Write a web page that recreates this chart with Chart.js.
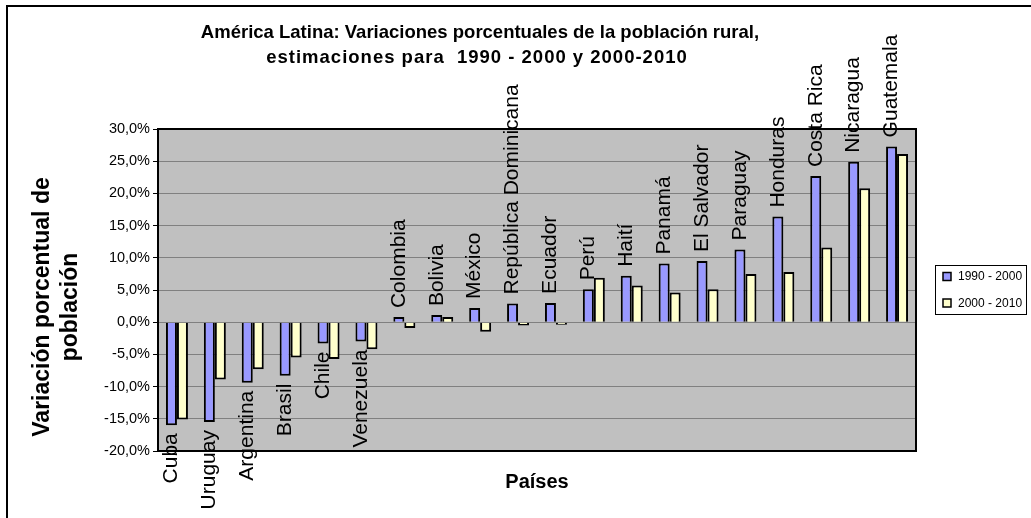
<!DOCTYPE html>
<html><head><meta charset="utf-8">
<script src="https://cdn.jsdelivr.net/npm/chart.js@4.4.0/dist/chart.umd.min.js"></script>
<style>html,body{margin:0;padding:0;background:#fff;}#wrap{width:1031px;height:518px;}</style>
</head><body><div id="wrap"><canvas id="c" width="1031" height="518"></canvas></div>
<script>
const categories = ['Cuba','Uruguay','Argentina','Brasil','Chile','Venezuela','Colombia','Bolivia','México','República Dominicana','Ecuador','Perú','Haití','Panamá','El Salvador','Paraguay','Honduras','Costa Rica','Nicaragua','Guatemala'];
const series1990 = [-16.0,-15.5,-9.4,-8.3,-3.3,-3.0,0.8,1.1,2.2,2.9,3.0,5.1,7.2,9.1,9.5,11.3,16.4,22.7,24.9,27.3];
const series2000 = [-15.1,-8.9,-7.3,-5.5,-5.7,-4.2,-0.9,0.8,-1.5,-0.5,-0.4,6.9,5.7,4.6,5.1,7.5,7.8,11.6,20.8,26.1];
const seriesLabels = ['1990 - 2000','2000 - 2010'];
const seriesColors = ['#9999FF','#FFFFCC'];
const titleLines = ['América Latina: Variaciones porcentuales de la población rural,','estimaciones para  1990 - 2000 y 2000-2010'];
const yTitleLines = ['Variación porcentual de','población'];
const xTitle = 'Países';
const yMin = -20, yMax = 30, yStep = 5;

const FAM = '"Liberation Sans", Arial, sans-serif';

const decor = {
  id: 'decor',
  beforeDraw(chart) {
    const ctx = chart.ctx, a = chart.chartArea;
    ctx.save();
    ctx.fillStyle = '#fff';
    ctx.fillRect(0, 0, chart.width, chart.height);
    ctx.strokeStyle = '#000';
    ctx.lineWidth = 2;
    ctx.beginPath();
    ctx.moveTo(7, chart.height + 2);
    ctx.lineTo(7, 6);
    ctx.lineTo(chart.width + 2, 6);
    ctx.stroke();
    ctx.fillStyle = '#C0C0C0';
    ctx.fillRect(a.left, a.top, a.right - a.left, a.bottom - a.top);
    ctx.restore();
  },
  afterDatasetsDraw(chart) {
    const ctx = chart.ctx, a = chart.chartArea;
    ctx.save();
    ctx.strokeStyle = '#000';
    ctx.lineWidth = 2;
    ctx.strokeRect(a.left, a.top, a.right - a.left, a.bottom - a.top);

    const meta = chart.getDatasetMeta(0);
    ctx.fillStyle = '#000';
    ctx.font = '21px ' + FAM;
    ctx.textBaseline = 'middle';
    meta.data.forEach((bar, i) => {
      const v = chart.data.datasets[0].data[i];
      ctx.save();
      if (v >= 0) {
        ctx.translate(bar.x, bar.y - 9);
        ctx.rotate(-Math.PI / 2);
        ctx.textAlign = 'left';
      } else {
        ctx.translate(bar.x, bar.y + 8);
        ctx.rotate(-Math.PI / 2);
        ctx.textAlign = 'right';
      }
      ctx.fillText(chart.data.labels[i], 0, 0);
      ctx.restore();
    });

    ctx.font = 'bold 18.5px ' + FAM;
    ctx.textAlign = 'center';
    ctx.textBaseline = 'middle';
    ctx.fillText(titleLines[0], 480, 33);
    ctx.save();
    ctx.letterSpacing = '1px';
    ctx.fillText(titleLines[1], 477, 58);
    ctx.restore();

    ctx.font = 'bold 20px ' + FAM;
    ctx.fillText(xTitle, (a.left + a.right) / 2, 482);

    ctx.save();
    ctx.translate(43, 307);
    ctx.rotate(-Math.PI / 2);
    ctx.font = 'bold 23px ' + FAM;
    yTitleLines.forEach((t, i) => ctx.fillText(t, 0, i * 28));
    ctx.restore();

    ctx.lineWidth = 1;
    ctx.strokeStyle = '#000';
    ctx.strokeRect(935.5, 265.5, 91, 49);
    ctx.font = '12px ' + FAM;
    ctx.textAlign = 'left';
    chart.data.datasets.forEach((ds, i) => {
      const cy = 276.5 + i * 26.5;
      ctx.fillStyle = ds.backgroundColor;
      ctx.fillRect(943, cy - 4, 8, 8);
      ctx.lineWidth = 1.5;
      ctx.strokeRect(943, cy - 4, 8, 8);
      ctx.fillStyle = '#000';
      ctx.fillText(ds.label, 958, cy + 0.5);
    });
    ctx.restore();
  }
};

new Chart(document.getElementById('c'), {
  type: 'bar',
  data: {
    labels: categories,
    datasets: [
      { label: seriesLabels[0], data: series1990, backgroundColor: seriesColors[0], borderColor: '#000', borderWidth: 2 },
      { label: seriesLabels[1], data: series2000, backgroundColor: seriesColors[1], borderColor: '#000', borderWidth: 2 }
    ]
  },
  options: {
    responsive: false,
    animation: false,
    devicePixelRatio: 1,
    categoryPercentage: 0.58,
    barPercentage: 1.0,
    layout: { padding: { left: 0, top: 129, right: 115, bottom: 0 } },
    plugins: { legend: { display: false }, title: { display: false }, tooltip: { enabled: false } },
    scales: {
      x: {
        grid: { display: false, drawTicks: false },
        border: { display: false },
        ticks: { display: false },
        afterFit(s) { s.height = 67; }
      },
      y: {
        min: yMin, max: yMax,
        ticks: {
          stepSize: yStep,
          color: '#000',
          padding: 3,
          font: { family: FAM, size: 14.5 },
          callback: v => v.toFixed(1).replace('.', ',') + '%'
        },
        grid: { color: '#808080', lineWidth: 1, tickLength: 5, tickColor: '#000', drawTicks: true },
        border: { display: false },
        afterFit(s) { s.width = 158; }
      }
    }
  },
  plugins: [decor]
});
</script>
</body></html>
